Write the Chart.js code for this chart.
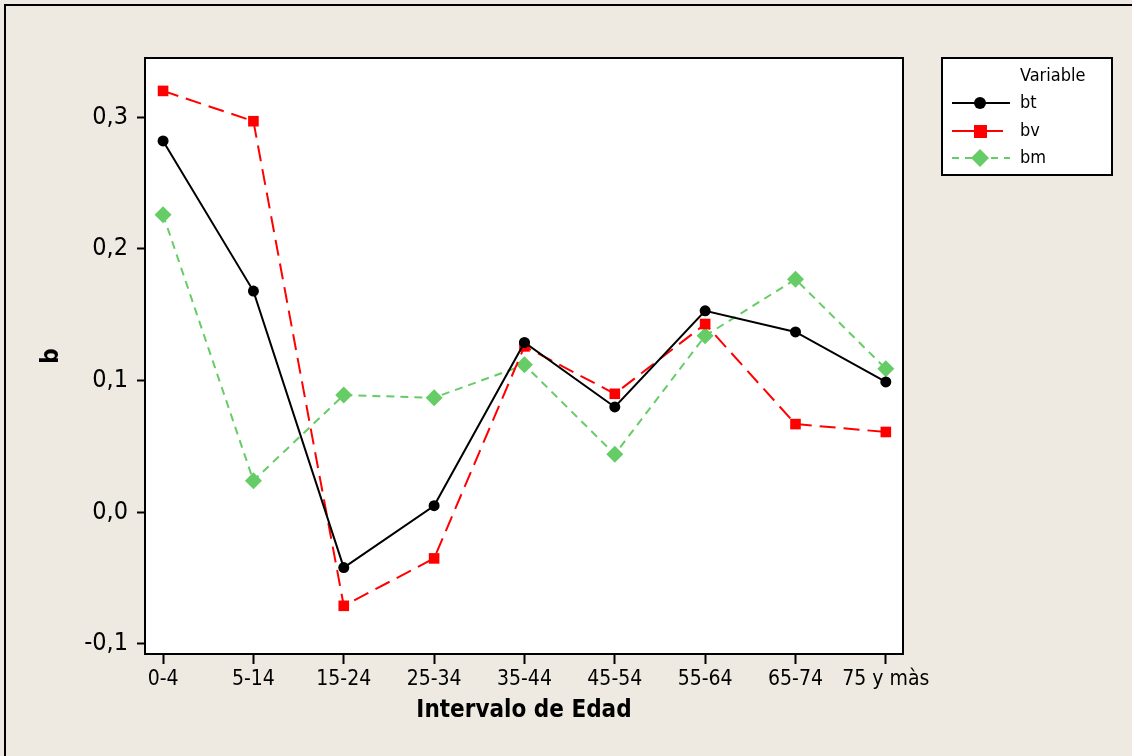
<!DOCTYPE html>
<html>
<head>
<meta charset="utf-8">
<script src="https://cdn.jsdelivr.net/npm/chart.js@4"></script>
<style>
  body { margin: 0; background: #eeeae1; }
  #wrap { width: 1132px; height: 756px; }
</style>
</head>
<body>
<div id="wrap"><canvas id="grafico" width="1132" height="756"></canvas></div>
<script>
// datos
const categorias = ['0-4', '5-14', '15-24', '25-34', '35-44', '45-54', '55-64', '65-74', '75 y màs'];
const bt = [0.282, 0.168, -0.042, 0.005, 0.129, 0.080, 0.153, 0.137, 0.099];
const bv = [0.320, 0.297, -0.071, -0.035, 0.126, 0.090, 0.143, 0.067, 0.061];
const bm = [0.226, 0.024, 0.089, 0.087, 0.112, 0.044, 0.134, 0.177, 0.109];
const yTicks = [-0.1, 0, 0.1, 0.2, 0.3];
const yTickLabels = ['-0,1', '0,0', '0,1', '0,2', '0,3'];

const fuente = '"DejaVu Sans Condensed", "DejaVu Sans", sans-serif';

function puntos(valores) {
  return valores.map((v, i) => ({ x: i, y: v }));
}

// fondo, marco del area y leyenda al estilo Minitab
const marcoPlugin = {
  id: 'marco',
  beforeDraw(chart) {
    const ctx = chart.ctx;
    const a = chart.chartArea;
    ctx.save();
    ctx.fillStyle = '#eeeae1';
    ctx.fillRect(0, 0, chart.width, chart.height);
    ctx.strokeStyle = '#000';
    ctx.lineWidth = 2;
    ctx.beginPath();
    ctx.moveTo(5, chart.height);
    ctx.lineTo(5, 5);
    ctx.lineTo(chart.width, 5);
    ctx.stroke();
    ctx.fillStyle = '#fff';
    ctx.fillRect(a.left, a.top, a.right - a.left, a.bottom - a.top);
    ctx.restore();
  },
  afterDraw(chart) {
    const ctx = chart.ctx;
    const a = chart.chartArea;
    ctx.save();
    ctx.strokeStyle = '#000';
    ctx.lineWidth = 2;
    ctx.strokeRect(a.left, a.top, a.right - a.left, a.bottom - a.top);

    // leyenda
    ctx.fillStyle = '#fff';
    ctx.fillRect(942, 58, 170, 117);
    ctx.strokeRect(942, 58, 170, 117);
    ctx.fillStyle = '#000';
    ctx.font = '18px ' + fuente;
    ctx.textBaseline = 'middle';
    ctx.textAlign = 'left';
    ctx.fillText('Variable', 1020, 76);
    const filas = [103, 131, 158];
    chart.data.datasets.forEach((ds, i) => {
      const y = filas[i];
      ctx.strokeStyle = ds.borderColor;
      ctx.lineWidth = 2;
      // en la leyenda solo bm sale punteada
      ctx.setLineDash(ds.pointStyle === 'rectRot' ? [7, 6] : []);
      ctx.beginPath();
      ctx.moveTo(952, y);
      ctx.lineTo(ds.pointStyle === 'rect' ? 1003 : 1010, y);
      ctx.stroke();
      ctx.setLineDash([]);
      ctx.fillStyle = ds.pointBackgroundColor;
      ctx.beginPath();
      if (ds.pointStyle === 'circle') {
        ctx.arc(980, y, 6, 0, Math.PI * 2);
      } else if (ds.pointStyle === 'rect') {
        ctx.rect(974, y - 6, 13, 13);
      } else {
        ctx.moveTo(980, y - 9);
        ctx.lineTo(989, y);
        ctx.lineTo(980, y + 9);
        ctx.lineTo(971, y);
        ctx.closePath();
      }
      ctx.fill();
      ctx.fillStyle = '#000';
      ctx.fillText(ds.label, 1020, y);
    });
    ctx.restore();
  }
};

const ctx = document.getElementById('grafico').getContext('2d');
new Chart(ctx, {
  type: 'line',
  data: {
    datasets: [{
      label: 'bt',
      data: puntos(bt),
      borderColor: '#000000',
      backgroundColor: '#000000',
      borderWidth: 2,
      pointStyle: 'circle',
      pointRadius: 5.5,
      pointBackgroundColor: '#000000',
      pointBorderWidth: 0
    }, {
      label: 'bv',
      data: puntos(bv),
      borderColor: '#ff0000',
      backgroundColor: '#ff0000',
      borderWidth: 2,
      borderDash: [16, 8],
      pointStyle: 'rect',
      pointRadius: 7.5,
      pointBackgroundColor: '#ff0000',
      pointBorderWidth: 0
    }, {
      label: 'bm',
      data: puntos(bm),
      borderColor: '#66cc66',
      backgroundColor: '#66cc66',
      borderWidth: 2,
      borderDash: [8, 6],
      pointStyle: 'rectRot',
      pointRadius: 8.5,
      pointBackgroundColor: '#66cc66',
      pointBorderWidth: 0
    }]
  },
  options: {
    responsive: false,
    animation: false,
    layout: { padding: { top: 58, right: 229, left: 0, bottom: 0 } },
    plugins: {
      legend: { display: false },
      tooltip: { enabled: false }
    },
    scales: {
      x: {
        type: 'linear',
        min: -0.2,
        max: 8.19,
        afterFit(scale) { scale.height = 102; },
        afterBuildTicks(scale) {
          scale.ticks = categorias.map((c, i) => ({ value: i }));
        },
        ticks: {
          color: '#000',
          font: { family: fuente, size: 21 },
          padding: 3,
          maxRotation: 0,
          autoSkip: false,
          callback: (v) => categorias[v]
        },
        grid: {
          display: true,
          drawOnChartArea: false,
          drawTicks: true,
          tickLength: 10,
          tickWidth: 2,
          tickColor: '#000'
        },
        border: { display: false },
        title: {
          display: true,
          text: 'Intervalo de Edad',
          color: '#000',
          font: { family: fuente, size: 24, weight: 'bold' },
          padding: { top: 0, bottom: 31 }
        }
      },
      y: {
        min: -0.1076,
        max: 0.345,
        afterFit(scale) { scale.width = 145; },
        afterBuildTicks(scale) {
          scale.ticks = yTicks.map(v => ({ value: v }));
        },
        ticks: {
          color: '#000',
          font: { family: fuente, size: 25 },
          padding: 9,
          callback: (v) => yTickLabels[yTicks.findIndex(t => Math.abs(t - v) < 1e-9)]
        },
        grid: {
          display: true,
          drawOnChartArea: false,
          drawTicks: true,
          tickLength: 8,
          tickWidth: 2,
          tickColor: '#000'
        },
        border: { display: false },
        title: {
          display: true,
          text: 'b',
          color: '#000',
          font: { family: fuente, size: 24, weight: 'bold' },
          padding: { top: 37, bottom: 0 }
        }
      }
    }
  },
  plugins: [marcoPlugin]
});
</script>
</body>
</html>
